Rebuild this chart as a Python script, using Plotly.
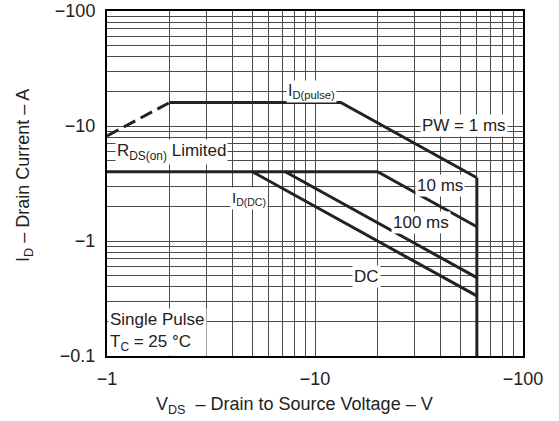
import numpy as np
import plotly.graph_objects as go

# ---- data (magnitudes; axes are labelled negative) ----
rds_v = [1, 2]
rds_i = [8.2, 16]

pulse_v = [2, 13.3, 60]
pulse_i = [16, 16, 3.55]

dc_level_v = [1, 20, 60]          # ID(DC) plateau continuing into 10 ms line
dc_level_i = [4, 4, 1.33]

ms100_v = [7.2, 60]
ms100_i = [4, 0.48]

dc_v = [5, 60]
dc_i = [4, 0.333]

vdss_v = [60, 60]
vdss_i = [3.55, 0.1]

x_major = [1, 10, 100]
x_major_text = ["\u22121", "\u221210", "\u2212100"]
x_minor = [2, 3, 4, 5, 6, 7, 8, 9, 20, 30, 40, 50, 60, 70, 80, 90]
y_major = [0.1, 1, 10, 100]
y_major_text = ["\u22120.1", "\u22121", "\u221210", "\u2212100"]
y_minor = [0.2, 0.3, 0.4, 0.5, 0.6, 0.7, 0.8, 0.9, 2, 3, 4, 5, 6, 7, 8, 9,
           20, 30, 40, 50, 60, 70, 80, 90]

FONT = "Liberation Sans, Arial, sans-serif"
LC = "#222222"
GC = "#4a4a4a"
W, H = 559, 421
L, R, T, B = 107, 36, 11, 65
pw, ph = W - L - R, H - T - B

fig = go.Figure()
lw = 3
fig.add_trace(go.Scatter(x=rds_v, y=rds_i, mode="lines",
                         line=dict(color=LC, width=lw, dash="13px,6px"), showlegend=False))
for xs, ys in [(pulse_v, pulse_i), (dc_level_v, dc_level_i), (ms100_v, ms100_i),
               (dc_v, dc_i), (vdss_v, vdss_i)]:
    fig.add_trace(go.Scatter(x=xs, y=ys, mode="lines",
                             line=dict(color=LC, width=lw), showlegend=False))


def px(xp, yp):
    return (xp - L) / pw, (H - B - yp) / ph


labels = [
    ("I<sub>D(pulse)</sub>", 311, 91, 16),
    ("PW = 1 ms", 464, 125, 17),
    ("10 ms", 440, 185, 17),
    ("R<sub>DS(on)</sub> Limited", 171, 152, 17),
    ("I<sub>D(DC)</sub>", 249, 198, 15),
    ("100 ms", 421, 223, 17),
    ("DC", 366, 276, 17),
]
for text, x0, y0, fs in labels:
    ax_, ay_ = px(x0, y0)
    fig.add_annotation(x=ax_, y=ay_, xref="paper", yref="paper", text=text,
                       xanchor="center", yanchor="middle",
                       showarrow=False, bgcolor="white", borderpad=1,
                       font=dict(family=FONT, size=fs, color=LC))

ax_, ay_ = px(108, 332)
fig.add_annotation(x=ax_, y=ay_, xref="paper", yref="paper",
                   text="Single Pulse<br>T<sub>C</sub> = 25 \u00b0C",
                   xanchor="left", yanchor="middle", align="left",
                   showarrow=False, bgcolor="white", borderpad=1,
                   font=dict(family=FONT, size=17, color=LC))

# axis titles
ax_, ay_ = px(294, 405)
fig.add_annotation(x=ax_, y=ay_, xref="paper", yref="paper",
                   text="V<sub>DS</sub>  \u2013 Drain to Source Voltage \u2013 V",
                   xanchor="center", yanchor="middle", showarrow=False,
                   font=dict(family=FONT, size=18, color=LC))
ax_, ay_ = px(24, 176)
fig.add_annotation(x=ax_, y=ay_, xref="paper", yref="paper",
                   text="I<sub>D</sub> \u2013 Drain Current \u2013 A", textangle=-90,
                   xanchor="center", yanchor="middle", showarrow=False,
                   font=dict(family=FONT, size=18, color=LC))

fig.update_layout(
    width=W, height=H,
    margin=dict(l=L, r=R, t=T, b=B),
    paper_bgcolor="white", plot_bgcolor="white",
    font=dict(family=FONT, size=18, color=LC),
    xaxis=dict(type="log", range=[0, 2], automargin=False,
               tickmode="array", tickvals=x_major, ticktext=x_major_text,
               tickfont=dict(size=18),
               showgrid=True, gridcolor=GC, gridwidth=1,
               minor=dict(tickmode="array", tickvals=x_minor, showgrid=True,
                          gridcolor=GC, gridwidth=1, ticks=""),
               showline=True, linecolor="black", linewidth=2, mirror=True,
               ticks="", ticklabelstandoff=5, zeroline=False),
    yaxis=dict(type="log", range=[-1, 2], automargin=False,
               tickmode="array", tickvals=y_major, ticktext=y_major_text,
               tickfont=dict(size=18),
               showgrid=True, gridcolor=GC, gridwidth=1,
               minor=dict(tickmode="array", tickvals=y_minor, showgrid=True,
                          gridcolor=GC, gridwidth=1, ticks=""),
               showline=True, linecolor="black", linewidth=2, mirror=True,
               ticks="", ticklabelstandoff=6, zeroline=False),
)

fig.write_html("out.html")
